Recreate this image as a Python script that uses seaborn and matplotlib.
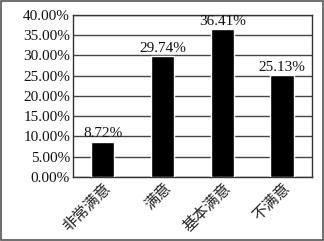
import matplotlib
matplotlib.use("Agg")
import matplotlib.pyplot as plt
import seaborn as sns
import pandas as pd
from matplotlib.patches import Rectangle

categories = ["非常满意", "满意", "基本满意", "不满意"]
values = [8.72, 29.74, 36.41, 25.13]
yticks = [0, 5, 10, 15, 20, 25, 30, 35, 40]

sns.set_theme(style="white")
plt.rcParams['font.family'] = ['Liberation Serif', 'Noto Sans CJK SC']

df = pd.DataFrame({"cat": categories, "val": values})
fig = plt.figure(figsize=(3.24, 2.41), dpi=100)
ax = fig.add_axes([0.225, 0.266, 0.738, 0.672])
sns.barplot(data=df, x="cat", y="val", color="black", width=0.39, saturation=1, ax=ax, zorder=3)
ax.set_ylim(0, 40)
ax.set_yticks(yticks)
ax.set_yticklabels([f"{v:.2f}%" for v in yticks], fontsize=11, family='Liberation Serif', color="#111111")
ax.yaxis.grid(True, color="#444444", linewidth=1.0, zorder=0)
ax.set_axisbelow(True)
ax.set_xlabel("")
ax.set_ylabel("")
ax.tick_params(axis='both', length=0, pad=2)
ax.set_xticks(range(len(categories)))
ax.set_xticklabels(categories, rotation=45, ha='right', rotation_mode='anchor',
                   fontsize=11, family=['Noto Sans CJK SC'], color="#222222")
for i, v in enumerate(values):
    ax.text(i, v + 0.4, f"{v:.2f}%", ha='center', va='bottom', fontsize=11,
            family='Liberation Serif', color="#111111")
for s in ax.spines.values():
    s.set_color("#333333")
    s.set_linewidth(1.0)
fig.patches.append(Rectangle((0.003, 0.004), 0.994, 0.992, transform=fig.transFigure,
                             fill=False, edgecolor="#555555", linewidth=1.2))
fig.savefig("out.png", dpi=100)
